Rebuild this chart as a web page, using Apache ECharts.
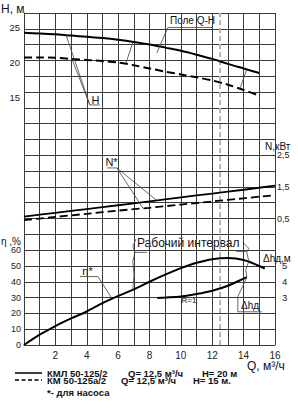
<!DOCTYPE html>
<html>
<head>
<meta charset="utf-8">
<script src="https://cdn.jsdelivr.net/npm/echarts@6/dist/echarts.min.js"></script>
<style>
  html, body { margin: 0; padding: 0; background: #fff; }
  #chart { width: 298px; height: 410px; }
</style>
</head>
<body>
<div id="chart"></div>
<script>
// Q-H curves (Q, м3/ч -> H, м)
var qH = [0, 1, 2, 3, 4, 5, 6, 7, 8, 9, 10, 11, 12, 13, 14, 15];
var hSolid = [24.2, 24.1, 24.0, 23.8, 23.65, 23.45, 23.2, 22.9, 22.55, 22.1, 21.65, 21.1, 20.5, 19.8, 19.15, 18.5];
var hDashed = [20.7, 20.7, 20.65, 20.5, 20.35, 20.2, 20.0, 19.6, 19.15, 18.7, 18.3, 17.9, 17.45, 16.85, 16.1, 15.3];

// power N, кВт
var qN = [0, 2, 4, 6, 8, 10, 12, 14, 16];
var nSolid = [0.56, 0.68, 0.80, 0.92, 1.04, 1.17, 1.29, 1.41, 1.54];
var nDashed = [0.45, 0.55, 0.65, 0.75, 0.84, 0.94, 1.04, 1.14, 1.24];

// efficiency, %
var qEta = [0, 1, 2, 3, 4, 5, 6, 7, 8, 9, 10, 11, 12, 13, 14, 15, 15.35];
var eta = [0, 6.5, 12, 16.8, 21.2, 26.5, 31, 35.2, 40, 44.5, 48.6, 52, 54.3, 55, 53.8, 50, 48.4];

// NPSH, м
var qDh = [8.5, 9, 10, 11, 12, 13, 14, 14.2];
var dh = [2.97, 3.0, 3.07, 3.22, 3.43, 3.75, 4.2, 4.3];

var qTicks = [2, 4, 6, 8, 10, 12, 14, 16];
var hTicks = [15, 20, 25];
var nTicks = [0.5, 1.5, 2.5];
var etaTicks = [0, 10, 20, 30, 40, 50, 60];
var dhTicks = [3, 4, 5];
var qNominal = 12.5;

// leader lines of the notes, in axis units
var fieldNote = [[8.47, 21.34], [9.17, 24.95], [12.04, 24.95]];
var hNote1 = [[2.68, 23.9], [4.2, 13.98], [4.84, 13.98]];
var hNote2 = [[3.06, 20.45], [4.2, 13.98]];
var fieldLeft = [[6.94, 22.85], [6.5, 19.9]];
var fieldRight = [[14.2, 19.0], [13.76, 16.3]];
var nNote1 = [[8.47, 1.07], [5.92, 2.10], [5.29, 2.10]];
var nNote2 = [[7.58, 0.83], [5.92, 2.10]];
var etaNote = [[5.59, 29.7], [4.71, 43.3], [3.57, 43.3]];
var workLeft = [[7.13, 66.9], [6.94, 62.4], [7.07, 58.6], [6.94, 52.9], [7.01, 44.6], [6.94, 35.0]];
var workLeftArrow = [[7.01, 58.6], [7.83, 58.6]];
var workRight = [[13.95, 65.0], [14.33, 61.1], [14.2, 58.6], [14.33, 52.9], [14.14, 47.8], [14.2, 42.7]];
var workRightArrow = [[14.2, 59.2], [13.5, 59.2]];
var dhNote = [[14.2, 4.27], [13.63, 3.06], [13.63, 2.10], [15.16, 2.10]];

function pts(xs, ys) {
    return xs.map(function (x, i) { return [x, ys[i]]; });
}

var FONT = 'Liberation Sans, Arial, sans-serif';
var NARROW = 'Liberation Sans Narrow, Liberation Sans, Arial, sans-serif';
var gridColor = '#3a3a3a';

function pickLabels(list, comma) {
    return function (v) {
        for (var i = 0; i < list.length; i++) {
            if (Math.abs(v - list[i]) < 1e-6) {
                var s = String(list[i]);
                return comma ? s.replace('.', ',') : s;
            }
        }
        return '';
    };
}

// all value axes share the one grid; min/max set so the scales land where the picture has them
function valueAxis(min, max, interval, side, margin, size, ticks, comma) {
    return {
        gridIndex: 0, type: 'value', position: side, min: min, max: max, interval: interval,
        axisLine: { show: false }, axisTick: { show: false }, splitLine: { show: false },
        axisLabel: {
            margin: margin, color: '#222', fontSize: size, fontFamily: FONT,
            hideOverlap: false, formatter: pickLabels(ticks, comma)
        }
    };
}

function curve(yi, data, dashed, w) {
    return {
        type: 'line', xAxisIndex: 0, yAxisIndex: yi, data: data,
        symbol: 'none', smooth: 0.3, silent: true, clip: false,
        lineStyle: { color: '#000', width: w || 2, type: dashed ? [8, 4] : 'solid' }
    };
}

function note(yi, data) {
    return {
        type: 'line', xAxisIndex: 0, yAxisIndex: yi, data: data,
        symbol: 'none', silent: true, clip: false,
        lineStyle: { color: '#444', width: 0.8 }
    };
}

function txt(text, x, y, size, opts) {
    opts = opts || {};
    return {
        type: 'text', x: x, y: y, silent: true,
        style: {
            text: text, fill: opts.color || '#111',
            font: (opts.bold ? 'bold ' : '') + size + 'px ' + (opts.family || FONT),
            textAlign: opts.align || 'left', textVerticalAlign: 'middle'
        }
    };
}

// svg renderer: the canvas one kept dropping the grid lines
var chart = echarts.init(document.getElementById('chart'), null, { renderer: 'svg' });

chart.setOption({
    animation: false,
    grid: { left: 24, top: 13, width: 251, height: 332 },
    xAxis: {
        type: 'value', min: 0, max: 16, interval: 1,
        axisLine: { show: true, onZero: false, lineStyle: { color: gridColor, width: 1 } },
        axisTick: { show: false },
        splitLine: { show: true, lineStyle: { color: gridColor, width: 1 } },
        axisLabel: {
            margin: 5, color: '#222', fontSize: 10, fontFamily: FONT,
            formatter: pickLabels(qTicks)
        }
    },
    yAxis: [
        {
            type: 'value', min: 0, max: 21, interval: 1,
            axisLine: { show: true, onZero: false, lineStyle: { color: gridColor, width: 1 } },
            axisTick: { show: false }, axisLabel: { show: false },
            splitLine: { show: true, lineStyle: { color: gridColor, width: 1 } }
        },
        valueAxis(-20, 27, 5, 'left', 4, 9.5, hTicks),        // H, м
        valueAxis(-3.5, 7, 0.5, 'right', 2, 9, nTicks, true), // N, кВт
        valueAxis(0, 210, 10, 'left', 3, 9, etaTicks),        // η, %
        valueAxis(0, 21, 1, 'right', 7, 9.5, dhTicks)         // Δhд, м
    ],
    series: [
        {
            type: 'line', yAxisIndex: 0, symbol: 'none', silent: true, clip: false,
            data: [[qNominal, 0], [qNominal, 21]],
            lineStyle: { color: '#b4b4b4', width: 2, type: [5, 3] }
        },
        curve(1, pts(qH, hSolid), false, 2),
        curve(1, pts(qH, hDashed), true, 2),
        curve(2, pts(qN, nSolid), false, 1.8),
        curve(2, pts(qN, nDashed), true, 1.8),
        curve(3, pts(qEta, eta), false, 2),
        curve(4, pts(qDh, dh), false, 2),
        note(1, fieldNote), note(1, hNote1), note(1, hNote2),
        note(1, fieldLeft), note(1, fieldRight),
        note(2, nNote1), note(2, nNote2),
        note(3, etaNote), note(3, workLeft), note(3, workLeftArrow),
        note(3, workRight), note(3, workRightArrow),
        note(4, dhNote)
    ],
    graphic: [
        txt('H, м', 1, 9, 12),
        txt('Поле Q-H', 170, 20, 10),
        txt('H', 95.5, 100, 11, { align: 'center' }),
        txt('N,кВт', 265, 146, 10),
        txt('N*', 111.5, 162, 11, { align: 'center' }),
        txt('η ,%', 1, 241, 10),
        txt('η*', 87.5, 271, 11, { align: 'center' }),
        txt('Рабочий интервал', 137, 243, 12),
        txt('Δhд,м', 263, 258, 10),
        txt('R=1', 189, 300, 8, { align: 'center' }),
        txt('Δhд', 250, 305, 10, { align: 'center' }),
        txt('Q, м³/ч', 247, 366, 12),
        {
            type: 'line', silent: true,
            shape: { x1: 15, y1: 373, x2: 42, y2: 373 },
            style: { stroke: '#000', lineWidth: 1.5 }
        },
        {
            type: 'line', silent: true,
            shape: { x1: 15, y1: 380, x2: 42, y2: 380 },
            style: { stroke: '#000', lineWidth: 1.5, lineDash: [4, 2.5] }
        },
        txt('КМЛ 50-125/2', 47, 373, 9.5, { bold: true, family: NARROW }),
        txt('Q= 12,5 м³/ч', 128, 373, 9.5, { bold: true, family: NARROW }),
        txt('H= 20 м', 202, 373, 9.5, { bold: true, family: NARROW }),
        txt('КМ 50-125а/2', 47, 380, 9.5, { bold: true, family: NARROW }),
        txt('Q= 12,5 м³/ч', 121, 380, 9.5, { bold: true, family: NARROW }),
        txt('H= 15 м.', 193, 380, 9.5, { bold: true, family: NARROW }),
        txt('*- для насоса', 47, 392, 9.5, { bold: true, family: NARROW })
    ]
});
</script>
</body>
</html>
